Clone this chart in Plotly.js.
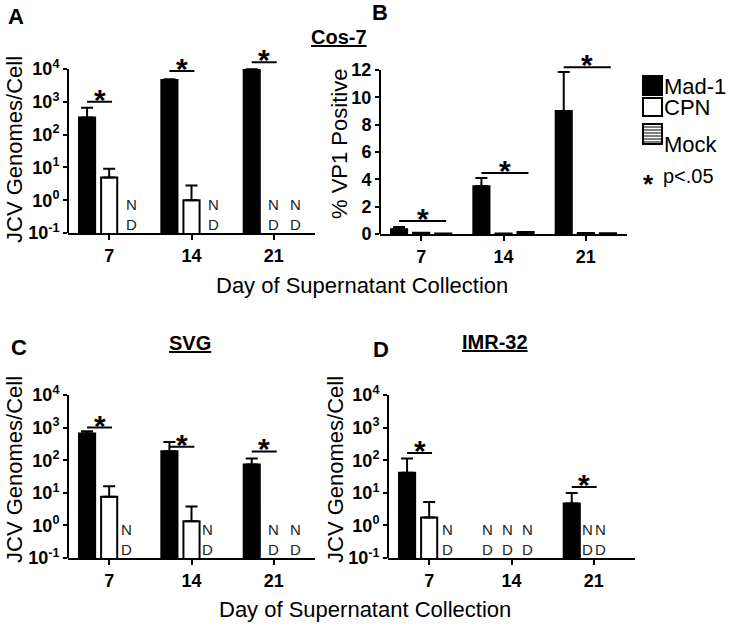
<!DOCTYPE html>
<html><head><meta charset="utf-8">
<script src="https://cdn.plot.ly/plotly-3.0.1.min.js"></script>
<style>html,body{margin:0;padding:0;background:#fff}</style>
</head><body><div id="chart" style="width:730px;height:626px"></div>
<script>
// ---------- data ----------
const days = ['7', '14', '21'];
const seriesNames = ['Mad-1', 'CPN', 'Mock'];
const logTickVals = [0.1, 1, 10, 100, 1000, 10000];
const logTickText = ['10<sup>-1</sup>', '10<sup>0</sup>', '10<sup>1</sup>', '10<sup>2</sup>', '10<sup>3</sup>', '10<sup>4</sup>'];
const pctTickVals = [0, 2, 4, 6, 8, 10, 12];

// Panel A: Cos-7, JCV genomes/cell (null = not detected)
const cos7Mad1 = [330, 4600, 9300];
const cos7Mad1Err = [330, 300, 500];
const cos7Cpn = [4.9, 1.0, null];
const cos7CpnErr = [4.2, 1.8, 0];
const cos7Mock = [null, null, null];

// Panel B: Cos-7, % VP1 positive
const vp1Mad1 = [0.35, 3.5, 9.0];
const vp1Mad1Err = [0.17, 0.6, 2.85];
const vp1Cpn = [0.1, 0.03, 0.07];
const vp1Mock = [0.04, 0.15, 0.05];

// Panel C: SVG
const svgMad1 = [660, 188, 74];
const svgMad1Err = [110, 175, 39];
const svgCpn = [7.5, 1.35, null];
const svgCpnErr = [8.5, 2.45, 0];
const svgMock = [null, null, null];

// Panel D: IMR-32
const imrMad1 = [41, null, 4.7];
const imrMad1Err = [71, 0, 5.2];
const imrCpn = [1.75, null, null];
const imrCpnErr = [3.5, 0, 0];
const imrMock = [null, null, null];

// significance bars: [day index, from series, to series, height]
const sigA = [[0, 0, 1, 1000], [1, 0, 1, 8700], [2, 0, 1, 16000]];
const sigB = [[0, 0, 2, 0.95], [1, 0, 2, 4.46], [2, 0, 2, 12.2]];
const sigC = [[0, 0, 1, 1000], [1, 0, 1, 260], [2, 0, 1, 185]];
const sigD = [[0, 0, 1, 165], [2, 0, 1, 15]];

// ---------- layout helpers ----------
const W = 730, H = 626;
const FONT = 'Liberation Sans, Arial, sans-serif';
const px = x => x / W;
const py = y => 1 - y / H;
const BARGAP = 0.195, GROUPGAP = 0.27;
const slotW = (1 - BARGAP) / 3;
const slotOff = s => (s - 1) * slotW;
const xIdx = days.map((d, i) => i);

const traces = [];
const annotations = [];
const shapes = [];

function addBars(xa, ya, vals, errs) {
  vals.forEach((v, s) => {
    const marker = {color: s === 0 ? '#000' : '#fff', line: {color: '#000', width: 2}};
    if (s === 2) marker.pattern = {shape: '-', fgcolor: '#000', bgcolor: '#fff', size: 4, solidity: 0.35};
    const t = {type: 'bar', x: xIdx, y: v, name: seriesNames[s], xaxis: xa, yaxis: ya,
      marker: marker, showlegend: false, hoverinfo: 'skip'};
    if (errs[s]) t.error_y = {type: 'data', symmetric: false, array: errs[s],
      arrayminus: errs[s].map(() => 0), color: '#000', thickness: 2, width: 6};
    traces.push(t);
  });
}

function addSig(xr, yr, isLog, list) {
  list.forEach(([d, s0, s1, h]) => {
    const x0 = d + slotOff(s0), x1 = d + slotOff(s1) + 0.035;
    shapes.push({type: 'line', xref: xr, yref: yr, x0: x0, x1: x1, y0: h, y1: h,
      line: {color: '#000', width: 2}});
    annotations.push({xref: xr, yref: yr, x: (x0 + x1) / 2, y: isLog ? Math.log10(h) : h,
      text: '<b>*</b>', showarrow: false, yanchor: 'bottom', xanchor: 'center', yshift: -16,
      font: {family: FONT, size: 30, color: '#000'}});
  });
}

function addND(xr, yr, vals, nudges) {
  vals.forEach((arr, s) => arr.forEach((v, d) => {
    if (v === null) {
      annotations.push({xref: xr, yref: yr, x: d + slotOff(s), y: -1, text: 'N<br>D', showarrow: false,
        yanchor: 'bottom', xanchor: 'center', yshift: -2, xshift: (nudges && nudges[d + '-' + s]) || 0,
        font: {family: FONT, size: 15, color: '#222'}});
    }
  }));
}

// y axis line drawn only up to the top tick (range extends above for the significance marks)
function yLine(xr, yr, lo, hi) {
  shapes.push({type: 'line', xref: xr + ' domain', yref: yr, x0: 0, x1: 0, y0: lo, y1: hi,
    line: {color: '#000', width: 2}});
}

const TICKFONT = {family: FONT, size: 18, color: '#000', weight: 'bold'};
function xAxis(domain, anchor) {
  return {domain: domain, anchor: anchor, range: [-0.5, 2.5], tickmode: 'array', tickvals: xIdx, ticktext: days,
    showline: true, linewidth: 2, linecolor: '#000', ticks: 'outside', ticklen: 5, tickwidth: 2, tickcolor: '#000',
    showgrid: false, zeroline: false, fixedrange: true, tickfont: TICKFONT};
}
// bottom px, px of top tick, range, extra range above top tick (in axis units)
function yDomain(bottomPx, topTickPx, r0, r1, extra) {
  const unit = (bottomPx - topTickPx) / (r1 - r0);
  return [py(bottomPx), py(topTickPx - extra * unit)];
}
function yLog(bottomPx, topPx, anchor) {
  return {domain: yDomain(bottomPx, topPx, -1, 4, 0.3), anchor: anchor, type: 'log', range: [-1, 4.3],
    tickmode: 'array', tickvals: logTickVals, ticktext: logTickText,
    showline: false, ticks: 'outside', ticklen: 4, tickwidth: 2, tickcolor: '#000',
    showgrid: false, zeroline: false, fixedrange: true, tickfont: TICKFONT};
}
function yPct(bottomPx, topPx, anchor) {
  return {domain: yDomain(bottomPx, topPx, 0, 12, 0.6), anchor: anchor, range: [0, 12.6],
    tickmode: 'array', tickvals: pctTickVals,
    showline: false, ticks: 'outside', ticklen: 4, tickwidth: 2, tickcolor: '#000',
    showgrid: false, zeroline: false, fixedrange: true, tickfont: TICKFONT};
}

// ---------- traces ----------
addBars('x', 'y', [cos7Mad1, cos7Cpn, cos7Mock], [cos7Mad1Err, cos7CpnErr, null]);
addBars('x2', 'y2', [vp1Mad1, vp1Cpn, vp1Mock], [vp1Mad1Err, null, null]);
addBars('x3', 'y3', [svgMad1, svgCpn, svgMock], [svgMad1Err, svgCpnErr, null]);
addBars('x4', 'y4', [imrMad1, imrCpn, imrMock], [imrMad1Err, imrCpnErr, null]);

yLine('x', 'y', logTickVals[0], logTickVals[logTickVals.length - 1]);
yLine('x2', 'y2', pctTickVals[0], pctTickVals[pctTickVals.length - 1]);
yLine('x3', 'y3', logTickVals[0], logTickVals[logTickVals.length - 1]);
yLine('x4', 'y4', logTickVals[0], logTickVals[logTickVals.length - 1]);

addSig('x', 'y', true, sigA);
addSig('x2', 'y2', false, sigB);
addSig('x3', 'y3', true, sigC);
addSig('x4', 'y4', true, sigD);

addND('x', 'y', [cos7Mad1, cos7Cpn, cos7Mock], null);
addND('x3', 'y3', [svgMad1, svgCpn, svgMock], {'0-2': -5, '1-2': -6});
addND('x4', 'y4', [imrMad1, imrCpn, imrMock], {'0-2': -4, '1-0': -2, '1-1': -4, '1-2': -6, '2-1': -6, '2-2': -15});

// ---------- text ----------
function txt(x, y, text, size, opts) {
  annotations.push(Object.assign({xref: 'paper', yref: 'paper', x: px(x), y: py(y), text: text, showarrow: false,
    xanchor: 'center', yanchor: 'middle', font: {family: FONT, size: size, color: '#000'}}, opts || {}));
}
txt(16, 16, '<b>A</b>', 22);
txt(380, 13, '<b>B</b>', 22);
txt(19, 347, '<b>C</b>', 22);
txt(381, 349, '<b>D</b>', 22);
txt(339, 37, '<b><u>Cos-7</u></b>', 20);
txt(190, 343, '<b><u>SVG</u></b>', 20);
txt(495, 342, '<b><u>IMR-32</u></b>', 20);
txt(362, 285, 'Day of Supernatant Collection', 22);
txt(365, 609, 'Day of Supernatant Collection', 22);
txt(14, 150, 'JCV Genomes/Cell', 22, {textangle: -90});
txt(14, 470, 'JCV Genomes/Cell', 22, {textangle: -90});
txt(335, 470, 'JCV Genomes/Cell', 22, {textangle: -90});
txt(339, 144, '% VP1 Positive', 22, {textangle: -90});

// legend
const legBoxes = [[76, 95], [98, 116], [124, 144]];
const legTextY = [86, 107, 144];
seriesNames.forEach((n, s) => {
  const [y0, y1] = legBoxes[s];
  shapes.push({type: 'rect', xref: 'paper', yref: 'paper', x0: px(643), x1: px(662), y0: py(y1), y1: py(y0),
    fillcolor: s === 0 ? '#000' : '#fff', line: {color: '#000', width: 2}});
  if (s === 2) {
    for (let yy = y0 + 3; yy < y1 - 1; yy += 3) {
      shapes.push({type: 'line', xref: 'paper', yref: 'paper', x0: px(644), x1: px(661), y0: py(yy), y1: py(yy),
        line: {color: '#000', width: 1}});
    }
  }
  txt(663, legTextY[s], n, 22, {xanchor: 'left', borderpad: 0});
});
txt(648, 184, '<b>*</b>', 26);
txt(661, 176, 'p<.05', 20, {xanchor: 'left'});

const layout = {
  width: W, height: H, margin: {l: 0, r: 0, t: 0, b: 0},
  paper_bgcolor: '#fff', plot_bgcolor: 'rgba(0,0,0,0)',
  barmode: 'group', bargap: BARGAP, bargroupgap: GROUPGAP, showlegend: false,
  font: {family: FONT, color: '#000'},
  xaxis: xAxis([px(68), px(315)], 'y'),
  yaxis: yLog(233, 69, 'x'),
  xaxis2: xAxis([px(380), px(627)], 'y2'),
  yaxis2: yPct(234, 70, 'x2'),
  xaxis3: xAxis([px(68), px(315)], 'y3'),
  yaxis3: yLog(558, 395, 'x3'),
  xaxis4: xAxis([px(388), px(635)], 'y4'),
  yaxis4: yLog(558, 395, 'x4'),
  annotations: annotations, shapes: shapes
};
Plotly.newPlot('chart', traces, layout, {staticPlot: true, displayModeBar: false});
</script></body></html>
